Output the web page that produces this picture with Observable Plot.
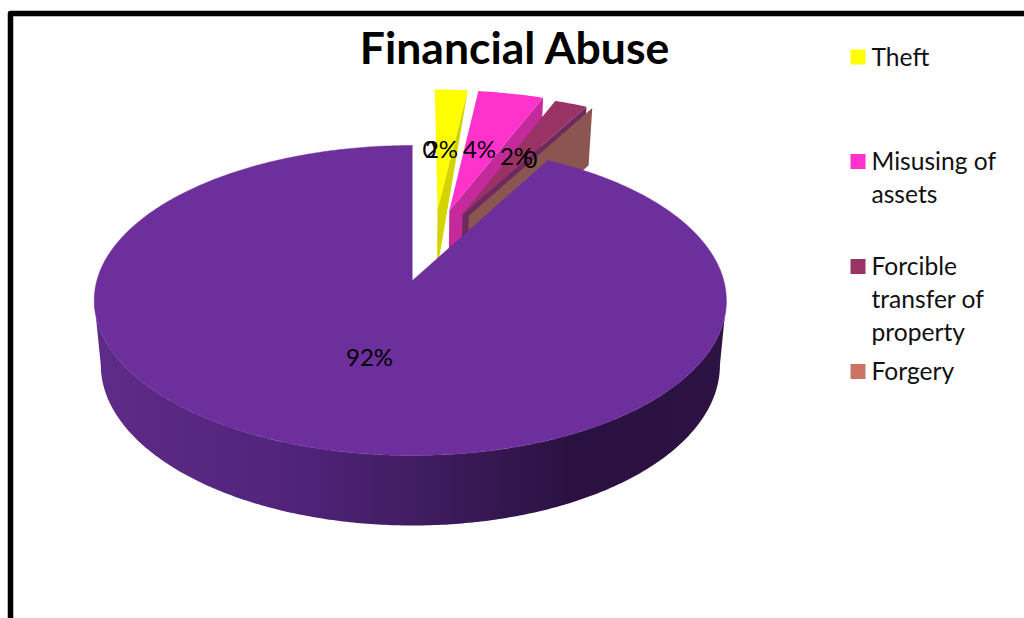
<!DOCTYPE html>
<html>
<head>
<meta charset="utf-8">
<script src="https://cdn.jsdelivr.net/npm/d3@7"></script>
<script src="https://cdn.jsdelivr.net/npm/@observablehq/plot@0.6"></script>
<style>
  html, body { margin: 0; padding: 0; background: #fff; overflow: hidden; }
  svg { display: block; }
</style>
</head>
<body>
<div id="chart"></div>
<script>
// Survey shares, in percent, clockwise from twelve o'clock.
const sliceNames = ["Unnamed", "Theft", "Misusing of assets", "Forcible transfer of property", "Forgery", "Remainder"];
const sliceValues = [0, 2, 4, 2, 0, 92];
const sliceLabels = ["0", "2%", "4%", "2%", "0", "92%"];

// Legend entries, one array per wrapped line.
const legendNames = ["Theft", "Misusing of assets", "Forcible transfer of property", "Forgery"];
const legendLines = [["Theft"], ["Misusing of", "assets"], ["Forcible", "transfer of", "property"], ["Forgery"]];

const chartTitle = "Financial Abuse";

// Colours of each slice: top face, then radial wall.
const topColors = ["none", "#ffff00", "#ff33cc", "#993366", "none", "#6d2f9b"];
const wallColors = ["none", "#d4d400", "#c42a9c", "#6e2a5c", "#8b5552", "none"];
const legendColors = ["#ffff00", "#ff33cc", "#993366", "#cc7368"];

// Pulled-out slices: displacement in the plane of the disc (unit radius).
const explode = [[0, 0], [0.085, 0.495], [0.125, 0.488], [0.169, 0.46], [0.19, 0.45], [0, 0]];

// Data label anchors in chart space.
const labelAnchors = [[429, 150], [441, 150], [479, 150], [516, 157], [530, 160], [369, 358]];

// Perspective view of the disc.
const persp = 0.129;
const centerX = 412;
const topFace = {y0: 280, a: 152.4, b: 313.4};
const bottomFace = {y0: 343.6, a: 158, b: 307};
const sideLean = 0.007; // the large slice's rim drifts slightly left at its widest points

function project(u, v, face) {
  const w = 1 + persp * v;
  return {x: centerX + face.b * u / w, y: face.y0 - face.a * v / w};
}

const toRad = (p) => (p / 100) * 2 * Math.PI;
const rim = (theta, off) => [off[0] + Math.sin(theta), off[1] + Math.cos(theta)];
const leanRim = (theta) => [Math.sin(theta) - sideLean * Math.sin(theta) ** 2, Math.cos(theta)];

// Cumulative start and end angle of every slice.
const ends = d3.cumsum(sliceValues);
const slices = sliceValues.map((v, i) => ({
  name: sliceNames[i],
  a0: toRad(ends[i] - v),
  a1: toRad(ends[i]),
  off: explode[i],
  top: topColors[i],
  wall: wallColors[i]
}));

const faces = [];
function addPolygon(id, color, points) {
  for (const p of points) faces.push({id, color, x: p.x, y: p.y});
}

// Radial wall along the clockwise edge of a slice; the first visible wedge tapers to its apex.
function wallOf(s, tapered) {
  const [u, v] = s.off;
  const [ou, ov] = rim(s.a1, s.off);
  const pts = [project(u, v, topFace), project(ou, ov, topFace)];
  if (!tapered) pts.push(project(ou, ov, bottomFace));
  pts.push(project(u, v, bottomFace));
  return pts;
}

function topOf(s, rimAt) {
  const [u, v] = s.off;
  const steps = Math.max(2, Math.ceil((s.a1 - s.a0) / 0.01));
  const pts = [project(u, v, topFace)];
  for (let k = 0; k <= steps; ++k) {
    const [ou, ov] = rimAt(s.a0 + (s.a1 - s.a0) * k / steps, s.off);
    pts.push(project(ou, ov, topFace));
  }
  return pts;
}

slices.forEach((s, i) => {
  if (s.wall !== "none") addPolygon(`wall-${i}`, s.wall, wallOf(s, s.name === "Theft"));
  if (s.top !== "none" && s.name !== "Remainder") addPolygon(`top-${i}`, s.top, topOf(s, rim));
});

// Outer wall of the large slice: one band between the silhouette points of the two rims,
// which sit where the projected disc is widest.
const widest = Math.acos(-persp);
const bandAngles = [...d3.range(widest, 2 * Math.PI - widest, 0.01), 2 * Math.PI - widest];
const band = [
  ...bandAngles.map((t) => { const [u, v] = leanRim(t); return project(u, v, topFace); }),
  ...[...bandAngles].reverse().map((t) => { const [u, v] = leanRim(t); return project(u, v, bottomFace); })
];

const mainSlice = slices[slices.length - 1];
const mainTop = topOf(mainSlice, (t) => leanRim(t));

const labels = sliceLabels.map((text, i) => ({text, x: labelAnchors[i][0], y: labelAnchors[i][1]}));

// Legend rows: a square swatch followed by wrapped text.
const legendRowY = [56.5, 161, 266, 371];
const legendLineStep = 33;
const legendSwatches = legendNames.map((name, i) => ({name, color: legendColors[i], x: 857.5, y: legendRowY[i]}));
const legendText = legendLines.flatMap((lines, i) =>
  lines.map((text, j) => ({text, x: 871, y: legendRowY[i] + 1 + j * legendLineStep}))
);

const border = [{x: 10, y: 618}, {x: 10, y: 13}, {x: 1024, y: 13}];
const fontFamily = "Lato, 'Open Sans', sans-serif";

// Horizontal shading of the band, lighter at the left.
const shadeStops = [[95, "#5f2b88"], [300, "#50237a"], [420, "#401c60"], [570, "#2b1142"], [726, "#2c1344"]];
const shadeGradient = () => {
  const ns = "http://www.w3.org/2000/svg";
  const defs = document.createElementNS(ns, "defs");
  const grad = document.createElementNS(ns, "linearGradient");
  grad.setAttribute("id", "band-shade");
  grad.setAttribute("gradientUnits", "userSpaceOnUse");
  grad.setAttribute("x1", shadeStops[0][0]);
  grad.setAttribute("x2", shadeStops[shadeStops.length - 1][0]);
  grad.setAttribute("y1", 0);
  grad.setAttribute("y2", 0);
  const span = shadeStops[shadeStops.length - 1][0] - shadeStops[0][0];
  for (const [x, color] of shadeStops) {
    const stop = document.createElementNS(ns, "stop");
    stop.setAttribute("offset", (x - shadeStops[0][0]) / span);
    stop.setAttribute("stop-color", color);
    grad.append(stop);
  }
  defs.append(grad);
  return defs;
};

const chart = Plot.plot({
  width: 1024,
  height: 618,
  margin: 0,
  x: {domain: [0, 1024], range: [0, 1024], axis: null},
  y: {domain: [0, 618], range: [0, 618], axis: null},
  color: {type: "identity"},
  style: {background: "#fff", fontFamily},
  marks: [
    shadeGradient,
    Plot.line(border, {x: "x", y: "y", stroke: "#000", strokeWidth: 5.5, strokeLinejoin: "round"}),
    Plot.line(faces, {x: "x", y: "y", z: "id", fill: "color", stroke: "none"}),
    Plot.line(band, {x: "x", y: "y", fill: "url(#band-shade)", stroke: "none"}),
    Plot.line(mainTop, {x: "x", y: "y", fill: mainSlice.top, stroke: mainSlice.top, strokeWidth: 0.5}),
    Plot.text(labels, {x: "x", y: "y", text: "text", fontSize: 24, fill: "#000"}),
    Plot.text([chartTitle], {x: () => 514, y: () => 49, text: (d) => d, fontSize: 44.5, fontWeight: 700, fill: "#000"}),
    Plot.dot(legendSwatches, {x: "x", y: "y", symbol: "square", r: 8.46, fill: "color", stroke: "none"}),
    Plot.text(legendText, {x: "x", y: "y", text: "text", textAnchor: "start", fontSize: 24.6, fill: "#111"})
  ]
});
document.getElementById("chart").append(chart);
</script>
</body>
</html>
